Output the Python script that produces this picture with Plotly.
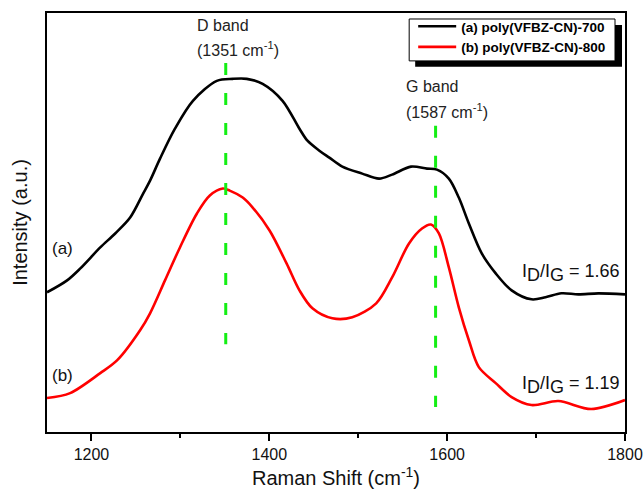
import plotly.graph_objects as go

# Raman spectra (Raman shift in cm^-1, intensity in arbitrary units)
shift_a = [1150, 1172.6, 1187.5, 1209.9, 1226.7, 1243.5, 1258.1, 1265.9, 1277.1, 1293.9,
           1314.1, 1341, 1358.9, 1374.6, 1392.5, 1414.9, 1433.9, 1442.9, 1456.3, 1467.5,
           1482.1, 1504.5, 1523.5, 1538.1, 1559.4, 1577.3, 1588.5, 1601.9, 1613.1, 1624.4,
           1638.9, 1654.6, 1672.5, 1694.9, 1710.6, 1728.5, 1747.6, 1770, 1800]
intensity_a = [140, 152, 164, 185, 199, 215, 239, 252, 274, 304,
               332, 352, 354, 354, 349, 332, 304, 292, 282, 275,
               266, 259, 254, 258, 266, 264, 263, 254, 235, 209,
               179, 159, 142, 133, 135, 139, 138, 139, 138]

shift_b = [1150, 1176, 1209.9, 1229, 1254.7, 1265.9, 1282.7, 1299.5, 1318.6, 1333.1,
           1347.7, 1355.5, 1370.1, 1381.3, 1400.3, 1419.4, 1433.9, 1448.5, 1470.9, 1493.3,
           1520.2, 1538.1, 1557.1, 1571.7, 1581.8, 1590.7, 1601.9, 1613.1, 1624.4, 1635.6,
           1654.6, 1672.5, 1694.9, 1725, 1762, 1800]
intensity_b = [34, 39, 59, 72, 102, 119, 152, 185, 219, 237,
               244, 242, 235, 225, 202, 169, 142, 124, 114, 115,
               129, 155, 189, 204, 208, 199, 165, 125, 92, 65,
               49, 35, 27, 31, 23, 32]

series_names = ["(a) poly(VFBZ-CN)-700", "(b) poly(VFBZ-CN)-800"]
series_colors = ["#000000", "#ff0000"]

# Band positions and the intensity span of their marker lines
band_names = ["D band", "G band"]
band_positions = [1351, 1587]
band_line_top = [370, 307]
band_line_bottom = [88, 25]

ratio_labels = ["1.66", "1.19"]

FONT = "Arial, Liberation Sans, sans-serif"

fig = go.Figure()

for xs, ys, name, color in zip([shift_a, shift_b], [intensity_a, intensity_b],
                               series_names, series_colors):
    fig.add_trace(go.Scatter(x=xs, y=ys, mode="lines", name=name,
                             line=dict(color=color, width=2.6, shape="spline", smoothing=0.9)))

for pos, top, bottom in zip(band_positions, band_line_top, band_line_bottom):
    fig.add_trace(go.Scatter(x=[pos, pos], y=[top, bottom], mode="lines", showlegend=False,
                             hoverinfo="skip",
                             line=dict(color="#14ee14", width=3, dash="12px,18px")))

annotations = []
# Band labels (left aligned two-line blocks)
band_label_x = [1316, 1551]
band_label_y = [(407, 384), (346, 322)]
for name, pos, lx, (y1, y2) in zip(band_names, band_positions, band_label_x, band_label_y):
    annotations.append(dict(x=lx, y=y1, xref="x", yref="y", text=name, showarrow=False,
                            xanchor="left", yanchor="middle",
                            font=dict(family=FONT, size=16, color="#222222")))
    annotations.append(dict(x=lx, y=y2, xref="x", yref="y",
                            text=f"({pos} cm<sup>-1</sup>)", showarrow=False,
                            xanchor="left", yanchor="middle",
                            font=dict(family=FONT, size=16, color="#222222")))

# Curve labels on the left
for lab, yv in zip(["(a)", "(b)"], [184, 57]):
    annotations.append(dict(x=1153, y=yv, xref="x", yref="y", text=lab, showarrow=False,
                            xanchor="left", yanchor="middle",
                            font=dict(family=FONT, size=17, color="#111111")))

# Intensity ratio labels on the right (full-size subscripts)
SUB = "<sub><span style='font-size:18px'>{}</span></sub>"
for r, yv in zip(ratio_labels, [159, 47]):
    annotations.append(dict(x=1797, y=yv, xref="x", yref="y",
                            text=f"I{SUB.format('D')}/I{SUB.format('G')} = {r}",
                            showarrow=False, xanchor="right", yanchor="middle",
                            font=dict(family=FONT, size=18, color="#111111")))

# Legend frame with drop shadow (pixel extents converted to paper coordinates)
L, R, T, B = 46.5, 625.0, 12.0, 432.0
def px(xp):
    return (xp - L) / (R - L)
def py(yp):
    return (B - yp) / (B - T)

shapes = [
    dict(type="rect", xref="paper", yref="paper",
         x0=px(415), x1=px(622), y0=py(66), y1=py(24),
         fillcolor="#000000", line=dict(width=0), layer="above"),
    dict(type="rect", xref="paper", yref="paper",
         x0=px(409), x1=px(615), y0=py(60), y1=py(18),
         fillcolor="#ffffff", line=dict(color="#000000", width=1), layer="above"),
]

fig.update_layout(
    width=644, height=489,
    margin=dict(l=46.5, r=19, t=12, b=57),
    paper_bgcolor="white", plot_bgcolor="white",
    font=dict(family=FONT, color="#000000"),
    showlegend=True,
    legend=dict(x=px(413), y=py(11), xanchor="left", yanchor="top",
                bgcolor="rgba(0,0,0,0)", borderwidth=0,
                font=dict(family=FONT, size=13.5, color="#000000", weight="bold"),
                itemwidth=38, tracegroupgap=0),
    annotations=annotations,
    shapes=shapes,
)

fig.update_xaxes(
    range=[1150, 1800], showgrid=False, zeroline=False, automargin=False,
    showline=True, linecolor="#000000", linewidth=1.5, mirror=True,
    ticks="outside", ticklen=7, tickwidth=1.5, tickcolor="#000000",
    tick0=1200, dtick=200,
    minor=dict(ticks="outside", ticklen=4, tickwidth=1.5, tickcolor="#000000", dtick=100),
    tickfont=dict(family=FONT, size=16, color="#111111"),
    title=dict(text="Raman Shift (cm<sup>-1</sup>)", standoff=12,
               font=dict(family=FONT, size=20, color="#111111")),
)
fig.update_yaxes(
    range=[0, 420], showgrid=False, zeroline=False, automargin=False,
    showline=True, linecolor="#000000", linewidth=1.5, mirror=True,
    ticks="", showticklabels=False,
    title=dict(text="Intensity (a.u.)", standoff=12,
               font=dict(family=FONT, size=20, color="#111111")),
)

fig.write_html("out.html")
